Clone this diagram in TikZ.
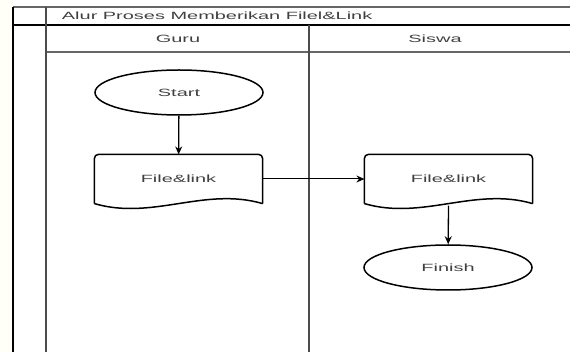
\documentclass[tikz,border=0pt]{standalone}
\usepackage{fontspec}
\setmainfont[FakeStretch=1.9]{Liberation Sans}
\usetikzlibrary{shapes.geometric,arrows.meta}
\definecolor{paper}{HTML}{FFFFF7}

% document outline round a node
\newcommand{\docoutline}[1]{%
	\draw[line width=1.5pt,rounded corners=4pt] (#1.south east) -- (#1.north east) -- (#1.north west) -- (#1.south west);
	\draw[line width=1.5pt] (#1.south west) .. controls +(58,17) and +(-58,-17) .. (#1.south east);
}

\begin{document}
\begin{tikzpicture}[x=1pt,y=-1pt,line width=1.2pt,>={Stealth[length=8pt,width=7pt]},
	every node/.style={font=\fontsize{10.5}{12}\selectfont,text=black!75},
	term/.style={ellipse,draw=black,line width=1.5pt,minimum width=168pt,minimum height=45pt,inner sep=0pt},
	docbox/.style={minimum width=167pt,minimum height=48pt,inner sep=0pt}]
	\useasboundingbox (0,0) rectangle (570,352);
	\fill[paper] (0,0) rectangle (13,352);
	% pool and lanes
	\draw[black!60] (13,7) -- (570,7);
	\draw (13,25) -- (570,25);
	\draw[black!60] (46,52) -- (570,52);
	\draw (13,7) -- (13,352);
	\draw[black!70] (46,7) -- (46,352);
	\draw[black!70] (309,25) -- (309,352);
	\node (title) at (58,16)	[anchor=west]	{Alur Proses Memberikan Filel\&Link};
	\node (guru) at (178,38.5)			{Guru};
	\node (siswa) at (435,38.5)			{Siswa};
	% flow
	\node (start) at (179,92.5)	[term]		{Start};
	\node (fileG) at (178.5,179)	[docbox]	{File\&link};
	\node (fileS) at (448.5,179)	[docbox]	{File\&link};
	\node (finish) at (448,267.5)	[term]		{Finish};
	\docoutline{fileG}
	\docoutline{fileS}
	\draw[->,line width=1.3pt] (start) -- (fileG);
	\draw[->,line width=1pt] (fileG) -- (fileS);
	\draw[->,line width=1.3pt] ([yshift=-2pt]fileS.south) -- (finish);
\end{tikzpicture}
\end{document}
